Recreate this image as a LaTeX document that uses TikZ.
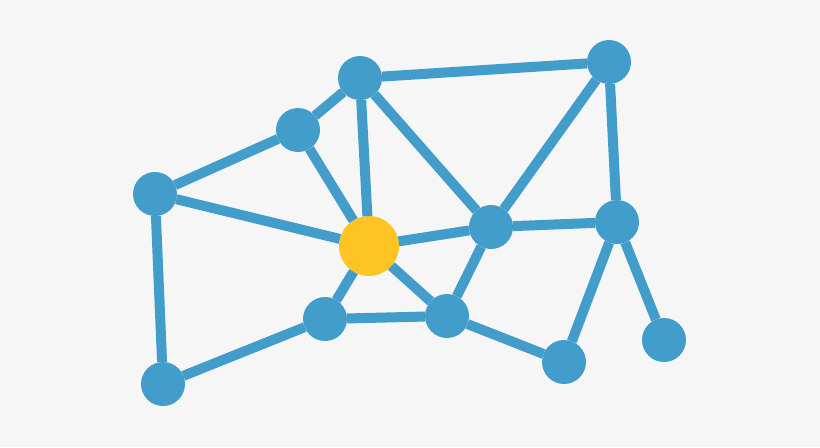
\documentclass[tikz,border=0pt]{standalone}
\usepackage{xcolor}
\usepackage{tikz}
\definecolor{netblue}{HTML}{439DCB}
\definecolor{netgold}{HTML}{FEC424}
\definecolor{paper}{HTML}{F6F6F7}
\tikzstyle{canvas}=[fill=paper]
\tikzstyle{vertex}=[circle, fill=netblue, minimum size=0.88cm, inner sep=0pt, outer sep=0pt]
\tikzstyle{hub}=[vertex, fill=netgold, minimum size=1.2cm]
\tikzstyle{link}=[netblue, line width=0.2cm]

\begin{document}
\begin{tikzpicture}[x=0.02cm, y=-0.02cm]
        % Canvas with the reference margins
        \fill[canvas] (0,0) rectangle (820,447);
        \useasboundingbox (0,0) rectangle (820,447);

        % Place the blue vertices
        \foreach \name/\x/\y in {
            a/155/194, b/298/130, c/360/78, d/609/62,
            f/491/227, g/617/222, h/325/319, i/447/316,
            j/564/362, k/664/340, l/163/384}{
            \node[vertex] (\name) at (\x,\y) {};
        }

        % Central vertex
        \node[hub] (e) at (369,246) {};

        % Connect vertices
        \foreach \from/\to in {
            a/b, b/c, c/d, a/e, b/e, c/e, c/f, d/f, d/g, f/g,
            e/f, e/h, e/i, f/i, h/i, i/j, g/j, g/k, a/l, l/h}{
            \draw[link] (\from) -- (\to);
        }
\end{tikzpicture}
\end{document}
